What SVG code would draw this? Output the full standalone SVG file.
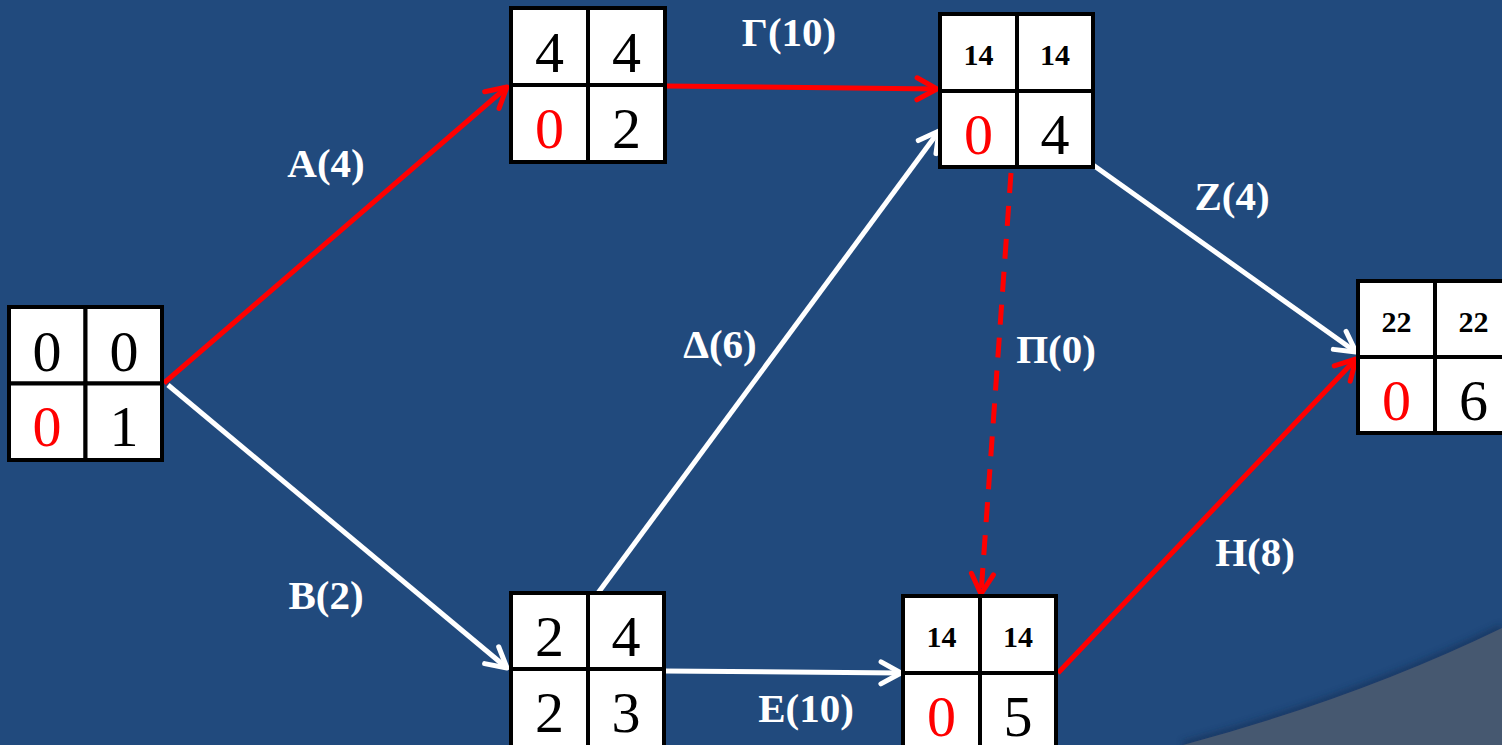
<svg xmlns="http://www.w3.org/2000/svg" width="1502" height="745" viewBox="0 0 1502 745">
<style>
.cell{fill:#fff;stroke:#000;stroke-width:4}
.big{font-family:"Liberation Serif","Times New Roman",serif;font-size:58px;text-anchor:middle;fill:#000}
.red{fill:#ff0000}
.small{font-family:"Liberation Serif","Times New Roman",serif;font-size:30px;font-weight:bold;text-anchor:middle;fill:#000}
.lbl{font-family:"Liberation Serif","Times New Roman",serif;font-size:41px;font-weight:bold;text-anchor:middle;fill:#fff}
.er{stroke:#ff0000;stroke-width:5;fill:none;marker-end:url(#ar)}
.ew{stroke:#ffffff;stroke-width:5;fill:none;marker-end:url(#aw)}
</style>
<defs>
<marker id="ar" markerUnits="userSpaceOnUse" markerWidth="30" markerHeight="30" refX="0" refY="0" orient="auto" overflow="visible">
<path d="M-20,-11 L0,0 L-20,11" fill="none" stroke="#ff0000" stroke-width="5" stroke-linecap="round" stroke-linejoin="round"/>
</marker>
<marker id="aw" markerUnits="userSpaceOnUse" markerWidth="30" markerHeight="30" refX="0" refY="0" orient="auto" overflow="visible">
<path d="M-20,-11 L0,0 L-20,11" fill="none" stroke="#ffffff" stroke-width="5" stroke-linecap="round" stroke-linejoin="round"/>
</marker>
<filter id="blur" x="-10%" y="-10%" width="120%" height="120%"><feGaussianBlur stdDeviation="3"/></filter>
</defs>
<rect x="0" y="0" width="1502" height="745" fill="#214a7d"/>
<path d="M1183,745 Q1358,698 1502,628" fill="none" stroke="#132f55" stroke-width="8" opacity="0.6" filter="url(#blur)"/>
<path d="M1183,745 Q1358,698 1502,628 L1502,745 Z" fill="#465870"/>

<g id="connectors">
<path class="er" d="M164,383 L507,87"/>
<path class="er" d="M665,86 L937,89"/>
<path class="ew" d="M168,385 L507,668"/>
<path class="ew" d="M598,593 L939,131"/>
<path class="er" d="M1011,173 L981,594" stroke-dasharray="20 13"/>
<path class="ew" d="M664,671 L901,673"/>
<path class="ew" d="M1093,165 L1356,352"/>
<path class="er" d="M1058,673 L1356,359"/>
</g>

<g id="labels">
<text class="lbl" x="326" y="177">A(4)</text>
<text class="lbl" x="326" y="609">B(2)</text>
<text class="lbl" x="789" y="46">Γ(10)</text>
<text class="lbl" x="720" y="358">Δ(6)</text>
<text class="lbl" x="1056" y="363">Π(0)</text>
<text class="lbl" x="806" y="722">Ε(10)</text>
<text class="lbl" x="1232" y="210">Ζ(4)</text>
<text class="lbl" x="1255" y="566">Η(8)</text>
</g>

<g id="node1">
<rect class="cell" x="9" y="307" width="76.5" height="76.5"/>
<rect class="cell" x="85.5" y="307" width="76.5" height="76.5"/>
<rect class="cell" x="9" y="383.5" width="76.5" height="76.5"/>
<rect class="cell" x="85.5" y="383.5" width="76.5" height="76.5"/>
<text class="big" x="47" y="371">0</text>
<text class="big" x="124" y="371">0</text>
<text class="big red" x="47" y="446">0</text>
<text class="big" x="124" y="446">1</text>
</g>

<g id="node2">
<rect class="cell" x="511" y="8" width="77" height="77"/>
<rect class="cell" x="588" y="8" width="77" height="77"/>
<rect class="cell" x="511" y="85" width="77" height="77"/>
<rect class="cell" x="588" y="85" width="77" height="77"/>
<text class="big" x="549.5" y="72">4</text>
<text class="big" x="626.5" y="72">4</text>
<text class="big red" x="549.5" y="148">0</text>
<text class="big" x="626.5" y="148">2</text>
</g>

<g id="node3">
<rect class="cell" x="940" y="14" width="77" height="77"/>
<rect class="cell" x="1017" y="14" width="76" height="77"/>
<rect class="cell" x="940" y="91" width="77" height="76"/>
<rect class="cell" x="1017" y="91" width="76" height="76"/>
<text class="small" x="978.5" y="65">14</text>
<text class="small" x="1055" y="65">14</text>
<text class="big red" x="978.5" y="154">0</text>
<text class="big" x="1055" y="154">4</text>
</g>

<g id="node4">
<rect class="cell" x="511" y="593" width="77" height="76"/>
<rect class="cell" x="588" y="593" width="76" height="76"/>
<rect class="cell" x="511" y="669" width="77" height="78"/>
<rect class="cell" x="588" y="669" width="76" height="78"/>
<text class="big" x="549.5" y="656">2</text>
<text class="big" x="626" y="656">4</text>
<text class="big" x="549.5" y="732">2</text>
<text class="big" x="626" y="732">3</text>
</g>

<g id="node5">
<rect class="cell" x="903" y="596" width="77" height="77"/>
<rect class="cell" x="980" y="596" width="76" height="77"/>
<rect class="cell" x="903" y="673" width="77" height="76"/>
<rect class="cell" x="980" y="673" width="76" height="76"/>
<text class="small" x="941.5" y="647">14</text>
<text class="small" x="1018" y="647">14</text>
<text class="big red" x="941.5" y="736">0</text>
<text class="big" x="1018" y="736">5</text>
</g>

<g id="node6">
<rect class="cell" x="1358" y="281" width="77" height="76"/>
<rect class="cell" x="1435" y="281" width="77" height="76"/>
<rect class="cell" x="1358" y="357" width="77" height="76"/>
<rect class="cell" x="1435" y="357" width="77" height="76"/>
<text class="small" x="1396.5" y="332">22</text>
<text class="small" x="1473.5" y="332">22</text>
<text class="big red" x="1396.5" y="420">0</text>
<text class="big" x="1473.5" y="420">6</text>
</g>
</svg>
